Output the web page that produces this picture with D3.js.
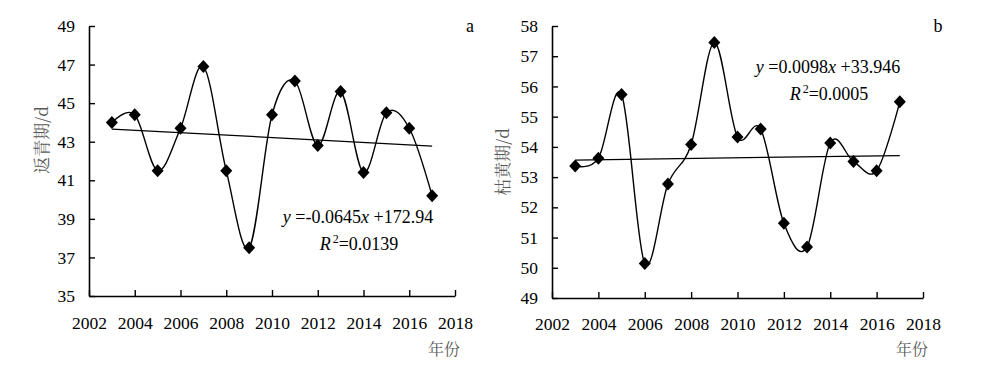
<!DOCTYPE html>
<html>
<head>
<meta charset="utf-8">
<script src="https://cdn.jsdelivr.net/npm/d3@7"></script>
</head>
<body style="margin:0;background:#fff">
<div id="chart"></div>
<script>
var width = 1000,
    height = 366;

// years and the two series
const years = [2003, 2004, 2005, 2006, 2007, 2008, 2009, 2010, 2011, 2012, 2013, 2014, 2015, 2016, 2017];
const greenUp = [44.0, 44.4, 41.5, 43.7, 46.9, 41.5, 37.5, 44.4, 46.15, 42.8, 45.6, 41.4, 44.5, 43.7, 40.2];
const wither = [53.37, 53.62, 55.73, 50.14, 52.77, 54.08, 57.45, 54.33, 54.59, 51.47, 50.69, 54.13, 53.52, 53.21, 55.49];

const xTicks = [2002, 2004, 2006, 2008, 2010, 2012, 2014, 2016, 2018];
const yTicksA = [35, 37, 39, 41, 43, 45, 47, 49];
const yTicksB = [49, 50, 51, 52, 53, 54, 55, 56, 57, 58];

const eqA = ["-0.0645", "+172.94", "0.0139"];
const eqB = ["0.0098", "+33.946", "0.0005"];

const serif = "Liberation Serif";
const cjk = "Noto Serif CJK SC, Noto Sans CJK SC";

var svg = d3.select("#chart")
    .append("svg")
    .attr("width", width)
    .attr("height", height);

// one panel
function drawPanel(p) {
    var x = d3.scaleLinear().domain([2002, 2018]).range([p.left, p.right]);
    var y = d3.scaleLinear().domain([p.yTicks[0], p.yTicks[p.yTicks.length - 1]]).range([p.bottom, p.top]);

    var g = svg.append("g");

    // axes, ticks inside
    g.append("g")
        .attr("transform", "translate(0," + p.bottom + ")")
        .call(d3.axisBottom(x).tickValues(xTicks).tickFormat(d3.format("d"))
            .tickSizeInner(-6).tickSizeOuter(0).tickPadding(p.xPad))
        .call(a => a.select(".domain").attr("stroke-width", 1.6))
        .call(a => a.selectAll(".tick line").attr("stroke-width", 1.4))
        .call(a => a.selectAll("text").attr("fill", "#000")
            .attr("font-family", serif).attr("font-size", 17.5));

    g.append("g")
        .attr("transform", "translate(" + p.left + ",0)")
        .call(d3.axisLeft(y).tickValues(p.yTicks)
            .tickSizeInner(-6).tickSizeOuter(0).tickPadding(14))
        .call(a => a.select(".domain").attr("stroke-width", 1.6))
        .call(a => a.selectAll(".tick line").attr("stroke-width", 1.4))
        .call(a => a.selectAll("text").attr("fill", "#000")
            .attr("font-family", serif).attr("font-size", 17.5));

    // trend line (least squares)
    var vals = p.values;
    var mx = d3.mean(years), my = d3.mean(vals);
    var sxy = d3.sum(years, (d, i) => (d - mx) * (vals[i] - my));
    var sxx = d3.sum(years, d => (d - mx) * (d - mx));
    var k = sxy / sxx, b = my - k * mx;
    var ends = [years[0], years[years.length - 1]];

    g.append("path")
        .datum(ends)
        .attr("fill", "none")
        .attr("stroke", "#000")
        .attr("stroke-width", 1.2)
        .attr("d", d3.line().x(d => x(d)).y(d => y(k * d + b)));

    // smoothed series
    g.append("path")
        .datum(years)
        .attr("fill", "none")
        .attr("stroke", "#000")
        .attr("stroke-width", 1.4)
        .attr("d", d3.line()
            .x(d => x(d))
            .y((d, i) => y(vals[i]))
            .curve(d3.curveCatmullRom.alpha(0)));

    // diamonds
    g.selectAll(".pt")
        .data(years)
        .join("path")
        .attr("class", "pt")
        .attr("transform", (d, i) => "translate(" + x(d) + "," + y(vals[i]) + ")")
        .attr("d", "M0,-6.5L6,0L0,6.5L-6,0Z")
        .attr("fill", "#000");

    // y title
    g.append("text")
        .attr("transform", "translate(" + p.titleX + "," + p.titleY + ") rotate(-90)")
        .attr("text-anchor", "middle")
        .attr("dy", "0.35em")
        .attr("font-family", cjk)
        .attr("font-size", 17)
        .attr("fill", "#595959")
        .text(p.title);

    // x title
    g.append("text")
        .attr("x", p.right - 11)
        .attr("y", 355)
        .attr("text-anchor", "middle")
        .attr("font-family", cjk)
        .attr("font-size", 16)
        .attr("fill", "#595959")
        .text("年份");

    // panel letter
    g.append("text")
        .attr("x", p.letterX)
        .attr("y", 32)
        .attr("text-anchor", "middle")
        .attr("font-family", serif)
        .attr("font-size", 18)
        .text(p.letter);

    // equation
    var e1 = g.append("text")
        .attr("x", p.eqX)
        .attr("y", p.eqY)
        .attr("text-anchor", "middle")
        .attr("font-family", serif)
        .attr("font-size", 18);
    e1.append("tspan").attr("font-style", "italic").text("y");
    e1.append("tspan").text(" =" + p.eq[0]);
    e1.append("tspan").attr("font-style", "italic").text("x");
    e1.append("tspan").text(" " + p.eq[1]);

    var e2 = g.append("text")
        .attr("x", p.eqX + 1)
        .attr("y", p.eqY + 27)
        .attr("text-anchor", "middle")
        .attr("font-family", serif)
        .attr("font-size", 18);
    e2.append("tspan").attr("font-style", "italic").text("R");
    e2.append("tspan").attr("font-size", 12).attr("dy", -7).attr("dx", 2).text("2");
    e2.append("tspan").attr("dy", 7).text("=" + p.eq[2]);
}

drawPanel({
    left: 89, right: 455, top: 26, bottom: 296,
    yTicks: yTicksA, values: greenUp, xPad: 21,
    title: "返青期/d", titleX: 42, titleY: 140,
    letter: "a", letterX: 470,
    eq: eqA, eqX: 358, eqY: 223
});

drawPanel({
    left: 552, right: 923, top: 26, bottom: 298,
    yTicks: yTicksB, values: wither, xPad: 20,
    title: "枯黄期/d", titleX: 503, titleY: 162,
    letter: "b", letterX: 938,
    eq: eqB, eqX: 828, eqY: 73
});
</script>
</body>
</html>
